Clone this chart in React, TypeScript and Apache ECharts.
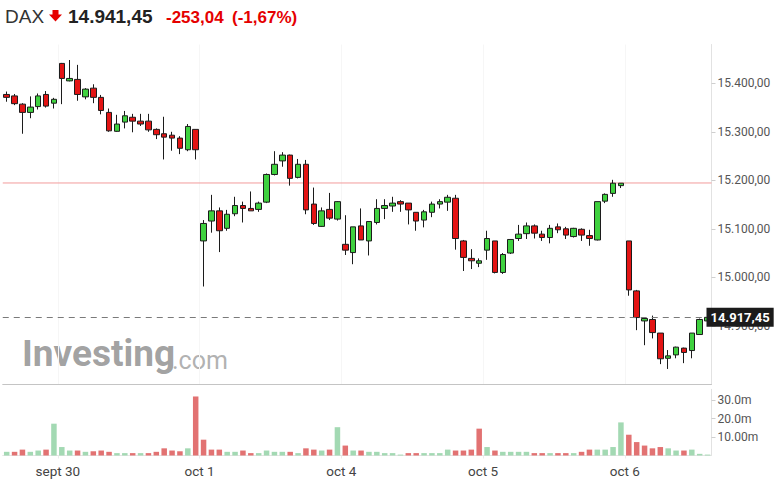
import React, { useEffect, useRef } from "react";
import * as echarts from "echarts";

// ---- DATA (30-minute candles, DAX) ----
const opens = [
  15377, 15374, 15357, 15340, 15352, 15377, 15359,
  15441, 15405, 15408, 15372, 15390, 15371, 15340, 15301, 15320, 15330, 15322, 15322, 15305, 15296, 15293, 15287, 15263, 15305,
  15075, 15116, 15137, 15101, 15131, 15148, 15142, 15140, 15155, 15212, 15240, 15252, 15206, 15233, 15151, 15105, 15140, 15120,
  15068, 15051, 15106, 15075, 15113, 15142, 15147, 15156, 15153, 15134, 15118, 15134, 15151, 15155, 15163, 15075, 15039, 15029,
  15056, 15075, 15010, 15050, 15080, 15090, 15106, 15089, 15082, 15104, 15100, 15084, 15099, 15086, 15077, 15157, 15173, 15189,
  15075, 14972, 14910, 14913, 14885, 14833, 14840, 14854, 14849, 14882, 14910,
];
const closes = [
  15371, 15358, 15340, 15351, 15374, 15353, 15367,
  15410, 15410, 15377, 15388, 15371, 15344, 15302, 15316, 15333, 15322, 15316, 15304, 15294, 15289, 15287, 15266, 15311, 15263,
  15111, 15137, 15096, 15130, 15148, 15142, 15137, 15153, 15212, 15233, 15252, 15204, 15233, 15139, 15111, 15137, 15122, 15156,
  15056, 15104, 15077, 15115, 15142, 15148, 15153, 15151, 15139, 15116, 15135, 15151, 15156, 15165, 15080, 15041, 15034, 15034,
  15080, 15010, 15047, 15078, 15089, 15106, 15091, 15082, 15101, 15098, 15087, 15101, 15087, 15080, 15156, 15171, 15194, 15194,
  14974, 14917, 14915, 14886, 14832, 14838, 14856, 14845, 14885, 14913, 14917.45,
];
const lows = [
  15362, 15355, 15296, 15328, 15346, 15350, 15348,
  15357, 15404, 15364, 15367, 15359, 15336, 15300, 15300, 15307, 15299, 15312, 15300, 15285, 15243, 15261, 15254, 15260, 15243,
  14981, 15092, 15052, 15096, 15126, 15113, 15137, 15135, 15153, 15210, 15228, 15189, 15204, 15130, 15108, 15104, 15118, 15117,
  15046, 15027, 15077, 15045, 15109, 15120, 15135, 15135, 15109, 15096, 15103, 15124, 15142, 15137, 15057, 15013, 15017, 15021,
  15036, 15008, 15007, 15048, 15075, 15079, 15080, 15075, 15070, 15091, 15079, 15082, 15075, 15065, 15076, 15153, 15166, 15184,
  14962, 14891, 14860, 14874, 14821, 14811, 14833, 14823, 14833, 14882, 14909,
];
const highs = [
  15383, 15378, 15359, 15373, 15379, 15384, 15370,
  15442, 15448, 15438, 15390, 15398, 15376, 15348, 15335, 15343, 15337, 15337, 15337, 15307, 15331, 15300, 15291, 15316, 15305,
  15118, 15170, 15144, 15139, 15166, 15156, 15177, 15156, 15214, 15260, 15258, 15253, 15244, 15242, 15185, 15144, 15174, 15157,
  15128, 15104, 15142, 15115, 15161, 15161, 15166, 15159, 15153, 15134, 15139, 15156, 15161, 15170, 15170, 15077, 15058, 15039,
  15096, 15075, 15050, 15078, 15108, 15113, 15109, 15096, 15108, 15111, 15104, 15102, 15101, 15098, 15156, 15173, 15201, 15194,
  15075, 14974, 14917, 14921, 14885, 14850, 14857, 14855, 14885, 14915, 14918,
];
// volume in millions
const volumes = [
  2.0, 2.0, 3.2, 2.0, 2.7, 3.2, 17.3,
  4.6, 2.7, 2.7, 2.0, 2.3, 2.7, 2.0, 1.3, 1.3, 1.3, 1.3, 1.3, 2.0, 3.9, 2.7, 2.3, 3.9, 32.1,
  8.6, 3.2, 3.2, 2.0, 2.0, 2.7, 1.3, 1.3, 2.7, 2.0, 2.0, 2.0, 1.3, 3.9, 3.2, 2.7, 3.2, 15.4,
  5.4, 2.7, 2.7, 2.0, 2.0, 1.3, 1.3, 0.5, 1.3, 1.3, 1.3, 1.3, 1.3, 3.2, 2.7, 2.7, 3.2, 14.6,
  4.6, 2.7, 2.0, 2.0, 2.0, 2.0, 1.3, 1.3, 1.3, 1.3, 1.3, 1.3, 2.0, 3.2, 3.2, 3.2, 4.6, 18.0,
  11.3, 7.3, 5.4, 3.9, 4.6, 3.9, 2.7, 2.7, 3.2, 0.9, 0.5,
];
// 1 = up (green) volume bar, 0 = down (red)
const volumeUp = [
  1, 0, 0, 1, 1, 0, 1,
  1, 1, 0, 1, 0, 0, 0, 1, 1, 0, 1, 0, 0, 0, 0, 0, 1, 0,
  0, 0, 0, 1, 1, 0, 0, 1, 1, 1, 1, 0, 1, 0, 0, 1, 0, 1,
  0, 1, 0, 1, 1, 1, 1, 1, 0, 0, 1, 1, 1, 1, 0, 0, 0, 0,
  1, 0, 1, 1, 1, 1, 0, 0, 1, 0, 0, 1, 0, 0, 1, 1, 1, 1,
  0, 0, 0, 0, 0, 1, 1, 0, 1, 1, 1,
];
const dayStartIndex = [7, 25, 43, 61, 79];
const dayLabels = ["sept 30", "oct 1", "oct 4", "oct 5", "oct 6"];
const priceTicks = [14900, 15000, 15100, 15200, 15300, 15400];
const volumeTicks = [10, 20, 30];
const volumeTickLabels = ["10.00m", "20.0m", "30.0m"];
const previousClose = 15194.49;
const lastPrice = 14917.45;
const headerName = "DAX";
const headerPrice = "14.941,45";
const headerChange = "-253,04";
const headerPct = "(-1,67%)";

function fmtDe(v: number): string {
  const s = v.toFixed(2);
  const [i, d] = s.split(".");
  return i.replace(/\B(?=(\d{3})+(?!\d))/g, ".") + "," + d;
}

export default function App() {
  const ref = useRef<HTMLDivElement>(null);
  useEffect(() => {
    if (!ref.current) return;
    const chart = echarts.init(ref.current, undefined, { renderer: "svg" });
    const n = opens.length;
    const idx = opens.map((_, i) => String(i));
    const candles = opens.map((o, i) => [o, closes[i], lows[i], highs[i]]);
    const bars = volumes.map((v, i) => ({
      value: v * 1e6,
      itemStyle: { color: volumeUp[i] ? "#a3d9b3" : "#e27272" },
    }));
    const empty = opens.map(() => null);
    const xMin = -0.5;
    const xMax = n - 0.5;
    const prevLine = [[xMin, previousClose], [xMax, previousClose]];
    const boundaries = dayStartIndex.map((d) => d - 0.5);
    const axisFont = { fontFamily: "Roboto", fontSize: 12, color: "#555" };
    const LEFT = 2.75;
    const WIDTH = 708.75;

    chart.setOption({
      animation: false,
      backgroundColor: "#fff",
      grid: [
        { left: LEFT, width: WIDTH, top: 44.5, height: 339.5 },
        { left: LEFT, width: WIDTH, top: 389.3, height: 66.2 },
      ],
      xAxis: [
        {
          type: "category",
          gridIndex: 0,
          data: idx,
          boundaryGap: true,
          axisLine: { show: true, onZero: false, lineStyle: { color: "#c4c4c4" } },
          axisTick: { show: false },
          axisLabel: { show: false },
          splitLine: { show: false },
        },
        {
          type: "value",
          gridIndex: 0,
          position: "top",
          min: xMin,
          max: xMax,
          axisLine: { show: false, onZero: false },
          axisTick: { show: false, customValues: boundaries },
          axisLabel: { show: false, customValues: boundaries },
          splitLine: { show: true, lineStyle: { color: "#f6f6f6" } },
        },
        {
          type: "category",
          gridIndex: 1,
          data: idx,
          show: false,
          position: "top",
          boundaryGap: true,
          axisLine: { onZero: false },
        },
        {
          type: "value",
          gridIndex: 1,
          position: "bottom",
          min: xMin,
          max: xMax,
          axisLine: { show: true, onZero: false, lineStyle: { color: "#e4e4e4" } },
          axisTick: { show: true, length: 3, customValues: boundaries, lineStyle: { color: "#ececec" } },
          axisLabel: {
            customValues: boundaries,
            margin: 8,
            fontFamily: "Roboto",
            fontSize: 13.5,
            color: "#444",
            formatter: (v: number) => {
              const k = boundaries.indexOf(v);
              return k >= 0 ? dayLabels[k] : "";
            },
          },
          splitLine: { show: false },
        },
      ],
      yAxis: [
        {
          type: "value",
          gridIndex: 0,
          position: "right",
          min: 14780,
          max: 15480,
          axisLine: { show: true, onZero: false, lineStyle: { color: "#e2e2e2" } },
          axisTick: { show: true, length: 4, customValues: priceTicks, lineStyle: { color: "#cfcfcf" } },
          axisLabel: { ...axisFont, margin: 6, customValues: priceTicks, formatter: (v: number) => fmtDe(v) },
          splitLine: { show: false },
        },
        {
          type: "value",
          gridIndex: 1,
          position: "right",
          min: 0,
          max: 36e6,
          axisLine: { show: true, onZero: false, lineStyle: { color: "#e2e2e2" } },
          axisTick: { show: true, length: 4, customValues: volumeTicks.map((v) => v * 1e6), lineStyle: { color: "#cfcfcf" } },
          axisLabel: {
            ...axisFont,
            margin: 6,
            customValues: volumeTicks.map((v) => v * 1e6),
            formatter: (v: number) => {
              const k = volumeTicks.indexOf(Math.round(v / 1e6));
              return k >= 0 ? volumeTickLabels[k] : "";
            },
          },
          splitLine: { show: false },
        },
      ],
      series: [
        {
          type: "line",
          xAxisIndex: 1,
          yAxisIndex: 0,
          data: prevLine,
          showSymbol: false,
          symbol: "none",
          silent: true,
          z: 1,
          color: "#f29c9c",
          lineStyle: { color: "#f29c9c", width: 1 },
        },
        {
          type: "candlestick",
          xAxisIndex: 0,
          yAxisIndex: 0,
          data: candles,
          barWidth: 6,
          z: 2,
          itemStyle: {
            color: "#3fd13f",
            color0: "#e31414",
            borderColor: "#1c1c1c",
            borderColor0: "#1c1c1c",
            borderWidth: 1,
          },
        },
        {
          type: "line",
          xAxisIndex: 0,
          yAxisIndex: 0,
          data: empty,
          showSymbol: false,
          silent: true,
          z: 3,
          markLine: {
            silent: true,
            symbol: ["none", "none"],
            lineStyle: { color: "#7a7a7a", width: 1, type: [6, 5], opacity: 1 },
            label: {
              show: true,
              position: "end",
              distance: -5,
              formatter: fmtDe(lastPrice),
              backgroundColor: "#1b1b1b",
              color: "#fff",
              fontFamily: "Roboto",
              fontWeight: "bold",
              fontSize: 13,
              padding: [3, 4, 3, 4],
            },
            data: [{ yAxis: lastPrice }],
          },
        },
        {
          type: "bar",
          xAxisIndex: 2,
          yAxisIndex: 1,
          data: bars,
          barWidth: 5.5,
        },
      ],
      graphic: [
        {
          type: "text",
          left: 22,
          top: 335,
          z: -1,
          style: {
            text: "Investing",
            font: "bold 37px Roboto",
            fill: "#969696",
            opacity: 0.9,
          },
        },
        {
          type: "text",
          left: 172,
          top: 348,
          z: -1,
          style: {
            text: ".com",
            font: "25px Roboto",
            fill: "#a8a8a8",
            opacity: 0.9,
          },
        },
        {
          type: "text",
          left: 5,
          top: 7,
          style: { text: headerName, font: '19px "Liberation Sans", Arial', fill: "#333" },
        },
        {
          type: "polygon",
          shape: {
            points: [[52.5, 10], [58.5, 10], [58.5, 14.5], [62, 14.5], [55.5, 21.5], [49, 14.5], [52.5, 14.5]],
          },
          style: { fill: "#e50000" },
        },
        {
          type: "text",
          left: 68,
          top: 7,
          style: { text: headerPrice, font: 'bold 19px "Liberation Sans", Arial', fill: "#222" },
        },
        {
          type: "text",
          left: 166,
          top: 8.5,
          style: { text: headerChange, font: 'bold 17px "Liberation Sans", Arial', fill: "#e50000" },
        },
        {
          type: "text",
          left: 232,
          top: 8.5,
          style: { text: headerPct, font: 'bold 17px "Liberation Sans", Arial', fill: "#e50000" },
        },
      ],
    });
    return () => chart.dispose();
  }, []);
  return (
    <div
      ref={ref}
      style={{ position: "fixed", left: 0, top: 0, width: 784, height: 496, background: "#fff" }}
    />
  );
}
